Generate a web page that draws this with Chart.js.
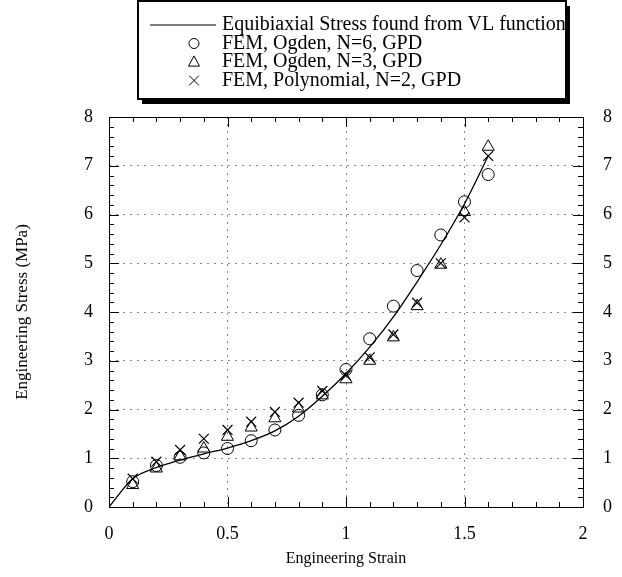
<!DOCTYPE html>
<html>
<head>
<meta charset="utf-8">
<script src="https://cdn.jsdelivr.net/npm/chart.js@4"></script>
<style>
  body { margin: 0; background: #fff; }
  canvas { display: block; }
</style>
</head>
<body>
<canvas id="stressChart" width="622" height="577"></canvas>
<script>
// FEM results at each strain step
const strain = [0.1, 0.2, 0.3, 0.4, 0.5, 0.6, 0.7, 0.8, 0.9, 1.0, 1.1, 1.2, 1.3, 1.4, 1.5, 1.6];
const ogden6 = [0.52, 0.85, 1.02, 1.11, 1.2, 1.36, 1.58, 1.88, 2.3, 2.82, 3.45, 4.12, 4.85, 5.58, 6.26, 6.82];
const ogden3 = [0.45, 0.79, 1.04, 1.2, 1.44, 1.63, 1.82, 2.02, 2.29, 2.62, 3.0, 3.48, 4.12, 4.97, 6.05, 7.39];
const poly2 = [0.58, 0.93, 1.17, 1.4, 1.58, 1.75, 1.95, 2.14, 2.38, 2.7, 3.07, 3.54, 4.19, 5.0, 5.94, 7.2];

// VL function curve
const vlStrain = [0, 0.1, 0.2, 0.3, 0.4, 0.5, 0.6, 0.7, 0.8, 0.9, 1.0, 1.1, 1.2, 1.3, 1.4, 1.5, 1.6];
const vlStress = [0, 0.58, 0.81, 0.96, 1.09, 1.21, 1.36, 1.56, 1.86, 2.27, 2.74, 3.28, 3.9, 4.62, 5.38, 6.22, 7.2];

// axis ticks
const xTickValues = [0, 0.5, 1, 1.5, 2];
const yTickValues = [0, 1, 2, 3, 4, 5, 6, 7, 8];

const legendLabels = [
    'Equibiaxial Stress found from VL function',
    'FEM, Ogden, N=6, GPD',
    'FEM, Ogden, N=3, GPD',
    'FEM, Polynomial, N=2, GPD'
];

const serif = '"Liberation Serif", "Times New Roman", serif';
const toPoints = (xs, ys) => xs.map((x, i) => ({ x: x, y: ys[i] }));

// draw a marker the same way in the legend
function marker(ctx, style, x, y, r) {
    ctx.beginPath();
    if (style === 'circle') {
        ctx.arc(x, y, r, 0, Math.PI * 2);
    } else if (style === 'triangle') {
        ctx.moveTo(x, y - r * 1.1);
        ctx.lineTo(x + r, y + r * 0.75);
        ctx.lineTo(x - r, y + r * 0.75);
        ctx.closePath();
    } else {
        const d = r * 0.75;
        ctx.moveTo(x - d, y - d); ctx.lineTo(x + d, y + d);
        ctx.moveTo(x + d, y - d); ctx.lineTo(x - d, y + d);
    }
    ctx.stroke();
}

const frameAndLegend = {
    id: 'frameAndLegend',
    afterDraw(chart) {
        const { ctx, chartArea: a, scales } = chart;
        ctx.save();
        // frame
        ctx.strokeStyle = '#000';
        ctx.lineWidth = 1;
        ctx.strokeRect(a.left + 0.5, a.top + 0.5, a.right - a.left, a.bottom - a.top);

        // inward tick marks
        ctx.beginPath();
        for (let i = 0; i <= 20; i++) {
            const v = i / 10;
            const px = Math.round(scales.x.getPixelForValue(v)) + 0.5;
            const len = i % 5 === 0 ? 10 : 5;
            ctx.moveTo(px, a.bottom); ctx.lineTo(px, a.bottom - len);
            ctx.moveTo(px, a.top); ctx.lineTo(px, a.top + len);
        }
        for (let i = 0; i <= 40; i++) {
            const v = i / 5;
            const py = Math.round(scales.y.getPixelForValue(v)) + 0.5;
            const len = i % 5 === 0 ? 10 : 5;
            ctx.moveTo(a.left, py); ctx.lineTo(a.left + len, py);
            ctx.moveTo(a.right, py); ctx.lineTo(a.right - len, py);
        }
        ctx.stroke();

        // legend box with drop shadow
        const bx = 138, by = 1, bw = 428, bh = 98;
        ctx.fillStyle = '#000';
        ctx.fillRect(bx + 4, by + 5, bw, bh);
        ctx.fillStyle = '#fff';
        ctx.fillRect(bx, by, bw, bh);
        ctx.lineWidth = 2;
        ctx.strokeRect(bx, by, bw, bh);

        const rowY = [25, 43.5, 62, 80.5];
        ctx.lineWidth = 1.2;
        ctx.beginPath();
        ctx.moveTo(150, rowY[0]); ctx.lineTo(216, rowY[0]);
        ctx.stroke();
        ctx.lineWidth = 1;
        marker(ctx, 'circle', 194, rowY[1], 5);
        marker(ctx, 'triangle', 194, rowY[2], 5.5);
        marker(ctx, 'cross', 194, rowY[3], 6.5);

        ctx.fillStyle = '#000';
        ctx.font = '20px ' + serif;
        ctx.textBaseline = 'middle';
        legendLabels.forEach((t, i) => ctx.fillText(t, 222, rowY[i]));
        ctx.restore();
    }
};

const gridColor = ctx => (ctx.tick && (ctx.tick.value === ctx.scale.min || ctx.tick.value === ctx.scale.max)) ? 'rgba(0,0,0,0)' : '#8a8a8a';
const plainLabel = v => String(v);

new Chart(document.getElementById('stressChart'), {
    type: 'scatter',
    data: {
        datasets: [
            {
                label: legendLabels[0],
                data: toPoints(vlStrain, vlStress),
                showLine: true,
                borderColor: '#000',
                borderWidth: 1.3,
                pointRadius: 0,
                cubicInterpolationMode: 'monotone'
            },
            {
                label: legendLabels[1],
                data: toPoints(strain, ogden6),
                pointStyle: 'circle',
                pointRadius: 6,
                borderColor: '#000',
                borderWidth: 1,
                backgroundColor: 'rgba(0,0,0,0)'
            },
            {
                label: legendLabels[2],
                data: toPoints(strain, ogden3),
                pointStyle: 'triangle',
                pointRadius: 7,
                borderColor: '#000',
                borderWidth: 1,
                backgroundColor: 'rgba(0,0,0,0)'
            },
            {
                label: legendLabels[3],
                data: toPoints(strain, poly2),
                pointStyle: 'crossRot',
                pointRadius: 7,
                borderColor: '#000',
                borderWidth: 1.2,
                backgroundColor: 'rgba(0,0,0,0)'
            }
        ]
    },
    options: {
        responsive: false,
        animation: false,
        layout: { padding: { top: 117, left: 0, right: 0, bottom: 0 } },
        plugins: { legend: { display: false }, tooltip: { enabled: false } },
        scales: {
            x: {
                type: 'linear',
                min: 0, max: 2,
                afterBuildTicks: s => { s.ticks = xTickValues.map(v => ({ value: v })); },
                afterFit: s => { s.height = 70; },
                grid: { color: gridColor, drawTicks: false, lineWidth: 1 },
                border: { display: false, dash: [2, 5] },
                ticks: { color: '#000', padding: 16, callback: plainLabel, font: { family: serif, size: 18 }, maxRotation: 0 },
                title: { display: true, text: 'Engineering Strain', color: '#000', padding: { bottom: 9 }, font: { family: serif, size: 16 } }
            },
            y: {
                type: 'linear',
                position: 'left',
                min: 0, max: 8,
                afterBuildTicks: s => { s.ticks = yTickValues.map(v => ({ value: v })); },
                afterFit: s => { s.width = 109; },
                grid: { color: gridColor, drawTicks: false, lineWidth: 1 },
                border: { display: false, dash: [2, 5] },
                ticks: { color: '#000', padding: 16, callback: plainLabel, font: { family: serif, size: 18 } },
                title: { display: true, text: 'Engineering Stress (MPa)', color: '#000', padding: { top: 12 }, font: { family: serif, size: 17 } }
            },
            y2: {
                type: 'linear',
                position: 'right',
                min: 0, max: 8,
                afterBuildTicks: s => { s.ticks = yTickValues.map(v => ({ value: v })); },
                afterFit: s => { s.width = 39; },
                grid: { display: false, drawTicks: false },
                border: { display: false },
                ticks: { color: '#000', padding: 20, callback: plainLabel, font: { family: serif, size: 18 } }
            }
        }
    },
    plugins: [frameAndLegend]
});
</script>
</body>
</html>
